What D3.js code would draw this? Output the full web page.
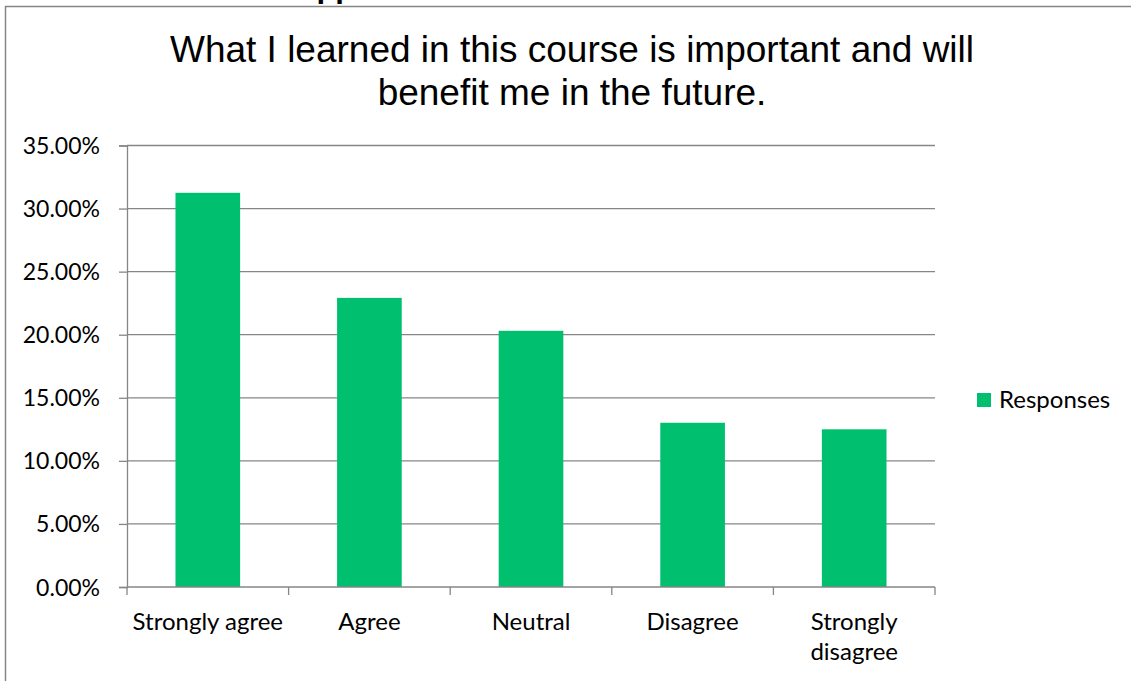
<!DOCTYPE html>
<html>
<head>
<meta charset="utf-8">
<script src="https://cdn.jsdelivr.net/npm/d3@7"></script>
<style>
  body { margin: 0; background: #fff; }
  svg { display: block; }
</style>
</head>
<body>
<script>
// ---------------------- DATA ----------------------
const categories = ["Strongly agree", "Agree", "Neutral", "Disagree", "Strongly disagree"];
const responses = [0.3125, 0.2292, 0.2031, 0.1302, 0.125];
const yTicks = [0, 0.05, 0.10, 0.15, 0.20, 0.25, 0.30, 0.35];
const titleLines = ["What I learned in this course is important and will", "benefit me in the future."];
const seriesName = "Responses";

const width = 1131, height = 681;
const barColor = "#00bf6f";
const gridColor = "#868686";
const labelFont = "Lato, 'Open Sans', sans-serif";

const svg = d3.select("body").append("svg")
    .attr("width", width)
    .attr("height", height);

// cut-off heading from the surrounding document (only descenders show)
svg.append("text")
    .attr("x", 294).attr("y", -3.5)
    .attr("font-family", "'Liberation Sans', Arial, sans-serif")
    .attr("font-weight", "bold")
    .attr("font-size", 31)
    .text("Appendix");

// chart border
svg.append("rect")
    .attr("x", 5.5).attr("y", 6.5)
    .attr("width", width + 10).attr("height", height + 10)
    .attr("fill", "none")
    .attr("stroke", gridColor)
    .attr("stroke-width", 1.5);

// title
svg.append("g").selectAll("text")
    .data(titleLines)
    .join("text")
    .attr("x", 572)
    .attr("y", (d, i) => 62 + i * 43)
    .attr("text-anchor", "middle")
    .attr("font-family", "'Liberation Sans', Arial, sans-serif")
    .attr("font-size", 37)
    .attr("fill", "#000")
    .text(d => d);

// scales
const x = d3.scaleBand().domain(categories).range([127, 935]).paddingInner(0.6).paddingOuter(0.3);
const y = d3.scaleLinear().domain([0, 0.35]).range([587, 145.5]);

// gridlines
svg.append("g").selectAll("line")
    .data(yTicks.slice(1))
    .join("line")
    .attr("x1", 127).attr("x2", 935)
    .attr("y1", d => y(d)).attr("y2", d => y(d))
    .attr("stroke", gridColor)
    .attr("stroke-width", 1.3);

// bars
svg.append("g").selectAll("rect")
    .data(responses)
    .join("rect")
    .attr("x", (d, i) => x(categories[i]))
    .attr("y", d => y(d))
    .attr("width", x.bandwidth())
    .attr("height", d => y(0) - y(d))
    .attr("fill", barColor);

// y axis
const yAxis = svg.append("g")
    .attr("transform", "translate(127,0)")
    .call(d3.axisLeft(y).tickValues(yTicks).tickFormat(d3.format(".2%")).tickSizeOuter(0).tickSize(8).tickPadding(19));
yAxis.select(".domain").attr("stroke", gridColor).attr("stroke-width", 1.3);
yAxis.selectAll(".tick line").attr("stroke", gridColor).attr("stroke-width", 1.3);
yAxis.selectAll(".tick text")
    .attr("font-family", labelFont)
    .attr("font-size", 23)
    .attr("fill", "#000")
    .attr("dy", "0.35em");

// x axis (ticks between categories)
const xAxis = svg.append("g").attr("transform", `translate(0,${y(0)})`);
xAxis.append("line")
    .attr("x1", 127).attr("x2", 935)
    .attr("stroke", gridColor).attr("stroke-width", 1.3);
const bounds = d3.range(categories.length + 1).map(i => 127 + i * (808 / categories.length));
xAxis.selectAll(".xtick")
    .data(bounds)
    .join("line")
    .attr("class", "xtick")
    .attr("x1", d => d).attr("x2", d => d)
    .attr("y1", 0).attr("y2", 8)
    .attr("stroke", gridColor).attr("stroke-width", 1.3);

// category labels, wrapped where Excel wraps them
const wrapped = { "Strongly disagree": ["Strongly", "disagree"] };
xAxis.selectAll(".xlabel")
    .data(categories)
    .join("text")
    .attr("class", "xlabel")
    .attr("text-anchor", "middle")
    .attr("font-family", labelFont)
    .attr("font-size", 24)
    .attr("fill", "#000")
    .each(function(d) {
        const lines = wrapped[d] || [d];
        const cx = x(d) + x.bandwidth() / 2;
        d3.select(this).selectAll("tspan")
            .data(lines)
            .join("tspan")
            .attr("x", cx)
            .attr("y", (l, i) => 43 + i * 30)
            .text(l => l);
    });

// legend
const legend = svg.append("g").attr("transform", "translate(977,393)");
legend.append("rect")
    .attr("width", 14).attr("height", 14)
    .attr("fill", barColor);
legend.append("text")
    .attr("x", 22).attr("y", 15)
    .attr("font-family", labelFont)
    .attr("font-size", 24)
    .attr("fill", "#000")
    .text(seriesName);
</script>
</body>
</html>
